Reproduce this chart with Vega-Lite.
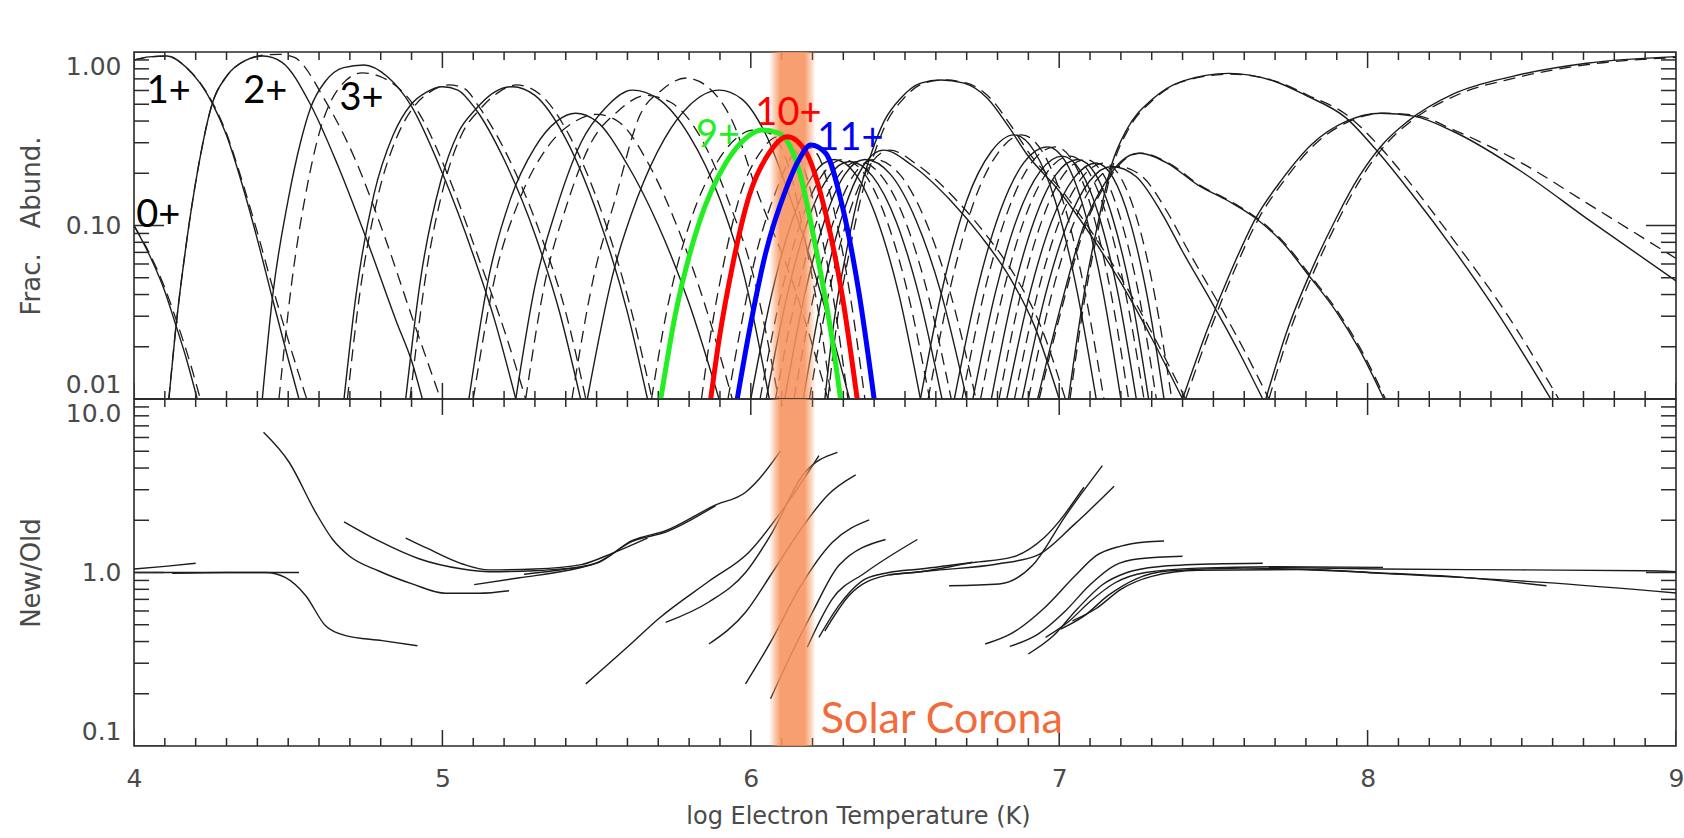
{
"$schema": "https://vega.github.io/schema/vega-lite/v6.json",
"background": "white",
"padding": {"left": 17, "top": 51, "right": 0, "bottom": 0},
"autosize": {"type": "pad"},
"spacing": 0,
"bounds": "flush",
"config": {
  "view": {"stroke": "#2a2a2a", "strokeWidth": 1.6},
  "axis": {"domain": false, "grid": false, "ticks": false, "labelFont": "DejaVu Sans", "titleFont": "DejaVu Sans", "labelFontSize": 25, "titleFontSize": 26, "labelColor": "#4a4a4a", "titleColor": "#4a4a4a", "titleFontWeight": "normal", "labelFlush": false}
},
"datasets": {
"band": [{"x1": 6.059, "x2": 6.211}],
"xt": [{"v":4,"k":"M"},{"v":4.1,"k":"m"},{"v":4.2,"k":"m"},{"v":4.3,"k":"m"},{"v":4.4,"k":"m"},{"v":4.5,"k":"m"},{"v":4.6,"k":"m"},{"v":4.7,"k":"m"},{"v":4.8,"k":"m"},{"v":4.9,"k":"m"},
{"v":5,"k":"M"},{"v":5.1,"k":"m"},{"v":5.2,"k":"m"},{"v":5.3,"k":"m"},{"v":5.4,"k":"m"},{"v":5.5,"k":"m"},{"v":5.6,"k":"m"},{"v":5.7,"k":"m"},{"v":5.8,"k":"m"},{"v":5.9,"k":"m"},
{"v":6,"k":"M"},{"v":6.1,"k":"m"},{"v":6.2,"k":"m"},{"v":6.3,"k":"m"},{"v":6.4,"k":"m"},{"v":6.5,"k":"m"},{"v":6.6,"k":"m"},{"v":6.7,"k":"m"},{"v":6.8,"k":"m"},{"v":6.9,"k":"m"},
{"v":7,"k":"M"},{"v":7.1,"k":"m"},{"v":7.2,"k":"m"},{"v":7.3,"k":"m"},{"v":7.4,"k":"m"},{"v":7.5,"k":"m"},{"v":7.6,"k":"m"},{"v":7.7,"k":"m"},{"v":7.8,"k":"m"},{"v":7.9,"k":"m"},
{"v":8,"k":"M"},{"v":8.1,"k":"m"},{"v":8.2,"k":"m"},{"v":8.3,"k":"m"},{"v":8.4,"k":"m"},{"v":8.5,"k":"m"},{"v":8.6,"k":"m"},{"v":8.7,"k":"m"},{"v":8.8,"k":"m"},{"v":8.9,"k":"m"},{"v":9,"k":"M"}],
"ytTop": [{"v":0.01,"k":"M"},{"v":0.02,"k":"m"},{"v":0.03,"k":"m"},{"v":0.04,"k":"m"},{"v":0.05,"k":"m"},{"v":0.06,"k":"m"},{"v":0.07,"k":"m"},{"v":0.08,"k":"m"},{"v":0.09,"k":"m"},
{"v":0.1,"k":"M"},{"v":0.2,"k":"m"},{"v":0.3,"k":"m"},{"v":0.4,"k":"m"},{"v":0.5,"k":"m"},{"v":0.6,"k":"m"},{"v":0.7,"k":"m"},{"v":0.8,"k":"m"},{"v":0.9,"k":"m"},{"v":1,"k":"M"}],
"ytBot": [{"v":0.1,"k":"M"},{"v":0.2,"k":"m"},{"v":0.3,"k":"m"},{"v":0.4,"k":"m"},{"v":0.5,"k":"m"},{"v":0.6,"k":"m"},{"v":0.7,"k":"m"},{"v":0.8,"k":"m"},{"v":0.9,"k":"m"},
{"v":1,"k":"M"},{"v":2,"k":"m"},{"v":3,"k":"m"},{"v":4,"k":"m"},{"v":5,"k":"m"},{"v":6,"k":"m"},{"v":7,"k":"m"},{"v":8,"k":"m"},{"v":9,"k":"m"},{"v":10,"k":"M"}],
"ionlab": [
{"label":"0+","x":4.079,"y":0.1135},{"label":"1+","x":4.113,"y":0.588},{"label":"2+","x":4.426,"y":0.588},{"label":"3+","x":4.738,"y":0.536},
{"label":"9+","x":5.894,"y":0.328},{"label":"10+","x":6.122,"y":0.439},{"label":"11+","x":6.323,"y":0.317}],
"corona": [{"label":"Solar Corona","x":6.227,"y":0.142}],
"abund": [
{"s":"0+","v":"new","x":4,"y":0.1},{"s":"0+","v":"new","x":4.05,"y":0.0676},{"s":"0+","v":"new","x":4.1,"y":0.0417},{"s":"0+","v":"new","x":4.135,"y":0.0269},{"s":"0+","v":"new","x":4.17,"y":0.017},{"s":"0+","v":"new","x":4.205,"y":0.01},
{"s":"1+","v":"new","x":4,"y":0.9},{"s":"1+","v":"new","x":4.05,"y":0.938},{"s":"1+","v":"new","x":4.108,"y":0.948},{"s":"1+","v":"new","x":4.17,"y":0.813},{"s":"1+","v":"new","x":4.254,"y":0.506},{"s":"1+","v":"new","x":4.3,"y":0.331},{"s":"1+","v":"new","x":4.35,"y":0.174},{"s":"1+","v":"new","x":4.4,"y":0.0832},{"s":"1+","v":"new","x":4.45,"y":0.0372},{"s":"1+","v":"new","x":4.5,"y":0.017},{"s":"1+","v":"new","x":4.535,"y":0.01},
{"s":"2+","v":"new","x":4.113,"y":0.01},{"s":"2+","v":"new","x":4.135,"y":0.0251},{"s":"2+","v":"new","x":4.17,"y":0.0794},{"s":"2+","v":"new","x":4.21,"y":0.224},{"s":"2+","v":"new","x":4.254,"y":0.506},{"s":"2+","v":"new","x":4.3,"y":0.724},{"s":"2+","v":"new","x":4.36,"y":0.891},{"s":"2+","v":"new","x":4.42,"y":0.948},{"s":"2+","v":"new","x":4.48,"y":0.871},{"s":"2+","v":"new","x":4.573,"y":0.495},{"s":"2+","v":"new","x":4.66,"y":0.224},{"s":"2+","v":"new","x":4.757,"y":0.0807},{"s":"2+","v":"new","x":4.85,"y":0.0282},{"s":"2+","v":"new","x":4.9,"y":0.0166},{"s":"2+","v":"new","x":4.935,"y":0.01},
{"s":"3+","v":"new","x":4.416,"y":0.01},{"s":"3+","v":"new","x":4.45,"y":0.0398},{"s":"3+","v":"new","x":4.5,"y":0.141},{"s":"3+","v":"new","x":4.54,"y":0.302},{"s":"3+","v":"new","x":4.573,"y":0.479},{"s":"3+","v":"new","x":4.62,"y":0.676},{"s":"3+","v":"new","x":4.68,"y":0.813},{"s":"3+","v":"new","x":4.746,"y":0.841},{"s":"3+","v":"new","x":4.82,"y":0.724},{"s":"3+","v":"new","x":4.897,"y":0.495},{"s":"3+","v":"new","x":5,"y":0.2},{"s":"3+","v":"new","x":5.1,"y":0.0676},{"s":"3+","v":"new","x":5.17,"y":0.0282},{"s":"3+","v":"new","x":5.238,"y":0.01},
{"s":"4+","v":"new","x":4.681,"y":0.01},{"s":"4+","v":"new","x":4.72,"y":0.0398},{"s":"4+","v":"new","x":4.778,"y":0.151},{"s":"4+","v":"new","x":4.84,"y":0.331},{"s":"4+","v":"new","x":4.897,"y":0.495},{"s":"4+","v":"new","x":4.95,"y":0.589},{"s":"4+","v":"new","x":5,"y":0.631},{"s":"4+","v":"new","x":5.05,"y":0.603},{"s":"4+","v":"new","x":5.108,"y":0.468},{"s":"4+","v":"new","x":5.2,"y":0.24},{"s":"4+","v":"new","x":5.3,"y":0.0891},{"s":"4+","v":"new","x":5.38,"y":0.0316},{"s":"4+","v":"new","x":5.448,"y":0.01},
{"s":"5+","v":"new","x":4.881,"y":0.01},{"s":"5+","v":"new","x":4.93,"y":0.0501},{"s":"5+","v":"new","x":4.994,"y":0.178},{"s":"5+","v":"new","x":5.05,"y":0.339},{"s":"5+","v":"new","x":5.108,"y":0.468},{"s":"5+","v":"new","x":5.17,"y":0.589},{"s":"5+","v":"new","x":5.227,"y":0.631},{"s":"5+","v":"new","x":5.3,"y":0.562},{"s":"5+","v":"new","x":5.4,"y":0.316},{"s":"5+","v":"new","x":5.5,"y":0.12},{"s":"5+","v":"new","x":5.6,"y":0.0316},{"s":"5+","v":"new","x":5.665,"y":0.01},
{"s":"6+","v":"new","x":5.086,"y":0.01},{"s":"6+","v":"new","x":5.15,"y":0.0501},{"s":"6+","v":"new","x":5.22,"y":0.141},{"s":"6+","v":"new","x":5.3,"y":0.282},{"s":"6+","v":"new","x":5.37,"y":0.398},{"s":"6+","v":"new","x":5.432,"y":0.444},{"s":"6+","v":"new","x":5.5,"y":0.398},{"s":"6+","v":"new","x":5.6,"y":0.224},{"s":"6+","v":"new","x":5.7,"y":0.1},{"s":"6+","v":"new","x":5.8,"y":0.0355},{"s":"6+","v":"new","x":5.897,"y":0.01},
{"s":"7+","v":"new","x":5.238,"y":0.01},{"s":"7+","v":"new","x":5.3,"y":0.0447},{"s":"7+","v":"new","x":5.37,"y":0.126},{"s":"7+","v":"new","x":5.45,"y":0.302},{"s":"7+","v":"new","x":5.53,"y":0.479},{"s":"7+","v":"new","x":5.616,"y":0.603},{"s":"7+","v":"new","x":5.7,"y":0.537},{"s":"7+","v":"new","x":5.8,"y":0.331},{"s":"7+","v":"new","x":5.9,"y":0.141},{"s":"7+","v":"new","x":5.98,"y":0.0501},{"s":"7+","v":"new","x":6.06,"y":0.01},
{"s":"8+","v":"new","x":5.47,"y":0.01},{"s":"8+","v":"new","x":5.55,"y":0.0501},{"s":"8+","v":"new","x":5.63,"y":0.141},{"s":"8+","v":"new","x":5.72,"y":0.316},{"s":"8+","v":"new","x":5.8,"y":0.49},{"s":"8+","v":"new","x":5.897,"y":0.603},{"s":"8+","v":"new","x":5.97,"y":0.537},{"s":"8+","v":"new","x":6.05,"y":0.331},{"s":"8+","v":"new","x":6.13,"y":0.141},{"s":"8+","v":"new","x":6.22,"y":0.0447},{"s":"8+","v":"new","x":6.32,"y":0.01},
{"s":"9+","v":"new","x":5.708,"y":0.01},{"s":"9+","v":"new","x":5.756,"y":0.0312},{"s":"9+","v":"new","x":5.832,"y":0.103},{"s":"9+","v":"new","x":5.919,"y":0.229},{"s":"9+","v":"new","x":5.983,"y":0.318},{"s":"9+","v":"new","x":6.036,"y":0.355},{"s":"9+","v":"new","x":6.091,"y":0.34},{"s":"9+","v":"new","x":6.156,"y":0.209},{"s":"9+","v":"new","x":6.21,"y":0.0755},{"s":"9+","v":"new","x":6.264,"y":0.0219},{"s":"9+","v":"new","x":6.291,"y":0.01},
{"s":"10+","v":"new","x":5.87,"y":0.01},{"s":"10+","v":"new","x":5.897,"y":0.0219},{"s":"10+","v":"new","x":5.94,"y":0.0579},{"s":"10+","v":"new","x":5.994,"y":0.147},{"s":"10+","v":"new","x":6.059,"y":0.261},{"s":"10+","v":"new","x":6.118,"y":0.325},{"s":"10+","v":"new","x":6.178,"y":0.267},{"s":"10+","v":"new","x":6.243,"y":0.117},{"s":"10+","v":"new","x":6.297,"y":0.0389},{"s":"10+","v":"new","x":6.345,"y":0.01},
{"s":"11+","v":"new","x":5.956,"y":0.01},{"s":"11+","v":"new","x":5.994,"y":0.024},{"s":"11+","v":"new","x":6.048,"y":0.0692},{"s":"11+","v":"new","x":6.113,"y":0.16},{"s":"11+","v":"new","x":6.156,"y":0.239},{"s":"11+","v":"new","x":6.194,"y":0.291},{"s":"11+","v":"new","x":6.243,"y":0.261},{"s":"11+","v":"new","x":6.297,"y":0.129},{"s":"11+","v":"new","x":6.351,"y":0.0407},{"s":"11+","v":"new","x":6.4,"y":0.01},
{"s":"12+","v":"new","x":6,"y":0.01},{"s":"12+","v":"new","x":6.068,"y":0.0402},{"s":"12+","v":"new","x":6.135,"y":0.108},{"s":"12+","v":"new","x":6.203,"y":0.197},{"s":"12+","v":"new","x":6.27,"y":0.24},{"s":"12+","v":"new","x":6.34,"y":0.197},{"s":"12+","v":"new","x":6.41,"y":0.108},{"s":"12+","v":"new","x":6.48,"y":0.0402},{"s":"12+","v":"new","x":6.55,"y":0.01},
{"s":"13+","v":"new","x":6.05,"y":0.01},{"s":"13+","v":"new","x":6.118,"y":0.0397},{"s":"13+","v":"new","x":6.185,"y":0.107},{"s":"13+","v":"new","x":6.253,"y":0.192},{"s":"13+","v":"new","x":6.32,"y":0.234},{"s":"13+","v":"new","x":6.395,"y":0.192},{"s":"13+","v":"new","x":6.47,"y":0.107},{"s":"13+","v":"new","x":6.545,"y":0.0397},{"s":"13+","v":"new","x":6.62,"y":0.01},
{"s":"14+","v":"new","x":6.11,"y":0.01},{"s":"14+","v":"new","x":6.175,"y":0.0402},{"s":"14+","v":"new","x":6.24,"y":0.108},{"s":"14+","v":"new","x":6.305,"y":0.197},{"s":"14+","v":"new","x":6.37,"y":0.24},{"s":"14+","v":"new","x":6.453,"y":0.197},{"s":"14+","v":"new","x":6.535,"y":0.108},{"s":"14+","v":"new","x":6.618,"y":0.0402},{"s":"14+","v":"new","x":6.7,"y":0.01},
{"s":"15+","v":"new","x":6.17,"y":0.01},{"s":"15+","v":"new","x":6.235,"y":0.0425},{"s":"15+","v":"new","x":6.3,"y":0.119},{"s":"15+","v":"new","x":6.365,"y":0.221},{"s":"15+","v":"new","x":6.43,"y":0.272},{"s":"15+","v":"new","x":6.52,"y":0.224},{"s":"15+","v":"new","x":6.65,"y":0.138},{"s":"15+","v":"new","x":6.75,"y":0.0851},{"s":"15+","v":"new","x":6.84,"y":0.0501},{"s":"15+","v":"new","x":6.92,"y":0.0263},{"s":"15+","v":"new","x":7,"y":0.01},
{"s":"16+","v":"new","x":6.24,"y":0.01},{"s":"16+","v":"new","x":6.27,"y":0.0282},{"s":"16+","v":"new","x":6.31,"y":0.0708},{"s":"16+","v":"new","x":6.35,"y":0.151},{"s":"16+","v":"new","x":6.389,"y":0.255},{"s":"16+","v":"new","x":6.432,"y":0.398},{"s":"16+","v":"new","x":6.486,"y":0.541},{"s":"16+","v":"new","x":6.551,"y":0.661},{"s":"16+","v":"new","x":6.616,"y":0.69},{"s":"16+","v":"new","x":6.691,"y":0.661},{"s":"16+","v":"new","x":6.767,"y":0.541},{"s":"16+","v":"new","x":6.832,"y":0.38},{"s":"16+","v":"new","x":6.897,"y":0.255},{"s":"16+","v":"new","x":7,"y":0.158},{"s":"16+","v":"new","x":7.1,"y":0.0891},{"s":"16+","v":"new","x":7.2,"y":0.0468},{"s":"16+","v":"new","x":7.3,"y":0.0224},{"s":"16+","v":"new","x":7.4,"y":0.01},
{"s":"17+","v":"new","x":6.55,"y":0.01},{"s":"17+","v":"new","x":6.625,"y":0.0463},{"s":"17+","v":"new","x":6.7,"y":0.139},{"s":"17+","v":"new","x":6.78,"y":0.267},{"s":"17+","v":"new","x":6.853,"y":0.333},{"s":"17+","v":"new","x":6.92,"y":0.267},{"s":"17+","v":"new","x":6.987,"y":0.139},{"s":"17+","v":"new","x":7.053,"y":0.0463},{"s":"17+","v":"new","x":7.12,"y":0.01},
{"s":"18+","v":"new","x":6.66,"y":0.01},{"s":"18+","v":"new","x":6.735,"y":0.0433},{"s":"18+","v":"new","x":6.81,"y":0.123},{"s":"18+","v":"new","x":6.886,"y":0.231},{"s":"18+","v":"new","x":6.962,"y":0.284},{"s":"18+","v":"new","x":7.022,"y":0.231},{"s":"18+","v":"new","x":7.081,"y":0.123},{"s":"18+","v":"new","x":7.14,"y":0.0433},{"s":"18+","v":"new","x":7.2,"y":0.01},
{"s":"19+","v":"new","x":6.72,"y":0.01},{"s":"19+","v":"new","x":6.793,"y":0.041},{"s":"19+","v":"new","x":6.865,"y":0.112},{"s":"19+","v":"new","x":6.938,"y":0.205},{"s":"19+","v":"new","x":7.01,"y":0.251},{"s":"19+","v":"new","x":7.07,"y":0.205},{"s":"19+","v":"new","x":7.13,"y":0.112},{"s":"19+","v":"new","x":7.19,"y":0.041},{"s":"19+","v":"new","x":7.25,"y":0.01},
{"s":"20+","v":"new","x":6.78,"y":0.01},{"s":"20+","v":"new","x":6.85,"y":0.0402},{"s":"20+","v":"new","x":6.92,"y":0.108},{"s":"20+","v":"new","x":6.99,"y":0.197},{"s":"20+","v":"new","x":7.06,"y":0.24},{"s":"20+","v":"new","x":7.118,"y":0.197},{"s":"20+","v":"new","x":7.175,"y":0.108},{"s":"20+","v":"new","x":7.233,"y":0.0402},{"s":"20+","v":"new","x":7.29,"y":0.01},
{"s":"21+","v":"new","x":6.83,"y":0.01},{"s":"21+","v":"new","x":6.903,"y":0.0394},{"s":"21+","v":"new","x":6.975,"y":0.105},{"s":"21+","v":"new","x":7.048,"y":0.188},{"s":"21+","v":"new","x":7.12,"y":0.229},{"s":"21+","v":"new","x":7.175,"y":0.188},{"s":"21+","v":"new","x":7.23,"y":0.105},{"s":"21+","v":"new","x":7.285,"y":0.0394},{"s":"21+","v":"new","x":7.34,"y":0.01},
{"s":"22+","v":"new","x":6.88,"y":0.01},{"s":"22+","v":"new","x":6.953,"y":0.0385},{"s":"22+","v":"new","x":7.025,"y":0.101},{"s":"22+","v":"new","x":7.098,"y":0.18},{"s":"22+","v":"new","x":7.17,"y":0.219},{"s":"22+","v":"new","x":7.25,"y":0.191},{"s":"22+","v":"new","x":7.33,"y":0.12},{"s":"22+","v":"new","x":7.4,"y":0.0708},{"s":"22+","v":"new","x":7.497,"y":0.0355},{"s":"22+","v":"new","x":7.58,"y":0.0191},{"s":"22+","v":"new","x":7.66,"y":0.01},
{"s":"23+","v":"new","x":6.93,"y":0.01},{"s":"23+","v":"new","x":7,"y":0.0316},{"s":"23+","v":"new","x":7.08,"y":0.1},{"s":"23+","v":"new","x":7.15,"y":0.178},{"s":"23+","v":"new","x":7.2,"y":0.234},{"s":"23+","v":"new","x":7.259,"y":0.261},{"s":"23+","v":"new","x":7.35,"y":0.229},{"s":"23+","v":"new","x":7.45,"y":0.171},{"s":"23+","v":"new","x":7.55,"y":0.138},{"s":"23+","v":"new","x":7.637,"y":0.11},{"s":"23+","v":"new","x":7.72,"y":0.0813},{"s":"23+","v":"new","x":7.81,"y":0.0513},{"s":"23+","v":"new","x":7.9,"y":0.0316},{"s":"23+","v":"new","x":7.972,"y":0.0195},{"s":"23+","v":"new","x":8.053,"y":0.01},
{"s":"24+","v":"new","x":7.03,"y":0.01},{"s":"24+","v":"new","x":7.08,"y":0.0398},{"s":"24+","v":"new","x":7.13,"y":0.112},{"s":"24+","v":"new","x":7.17,"y":0.224},{"s":"24+","v":"new","x":7.22,"y":0.36},{"s":"24+","v":"new","x":7.3,"y":0.53},{"s":"24+","v":"new","x":7.4,"y":0.68},{"s":"24+","v":"new","x":7.55,"y":0.753},{"s":"24+","v":"new","x":7.7,"y":0.676},{"s":"24+","v":"new","x":7.8,"y":0.562},{"s":"24+","v":"new","x":7.93,"y":0.417},{"s":"24+","v":"new","x":8.026,"y":0.275},{"s":"24+","v":"new","x":8.14,"y":0.155},{"s":"24+","v":"new","x":8.28,"y":0.0724},{"s":"24+","v":"new","x":8.42,"y":0.0316},{"s":"24+","v":"new","x":8.594,"y":0.01},
{"s":"25+","v":"new","x":7.4,"y":0.01},{"s":"25+","v":"new","x":7.48,"y":0.0251},{"s":"25+","v":"new","x":7.56,"y":0.0562},{"s":"25+","v":"new","x":7.637,"y":0.11},{"s":"25+","v":"new","x":7.72,"y":0.182},{"s":"25+","v":"new","x":7.82,"y":0.295},{"s":"25+","v":"new","x":7.93,"y":0.398},{"s":"25+","v":"new","x":8.042,"y":0.444},{"s":"25+","v":"new","x":8.15,"y":0.427},{"s":"25+","v":"new","x":8.28,"y":0.347},{"s":"25+","v":"new","x":8.5,"y":0.204},{"s":"25+","v":"new","x":8.71,"y":0.11},{"s":"25+","v":"new","x":9,"y":0.0479},
{"s":"26+","v":"new","x":7.67,"y":0.01},{"s":"26+","v":"new","x":7.74,"y":0.0251},{"s":"26+","v":"new","x":7.81,"y":0.0513},{"s":"26+","v":"new","x":7.9,"y":0.112},{"s":"26+","v":"new","x":7.972,"y":0.191},{"s":"26+","v":"new","x":8.05,"y":0.295},{"s":"26+","v":"new","x":8.13,"y":0.398},{"s":"26+","v":"new","x":8.28,"y":0.575},{"s":"26+","v":"new","x":8.47,"y":0.724},{"s":"26+","v":"new","x":8.71,"y":0.861},{"s":"26+","v":"new","x":9,"y":0.94},
{"s":"0+","v":"old","x":4,"y":0.1},{"s":"0+","v":"old","x":4.05,"y":0.0692},{"s":"0+","v":"old","x":4.1,"y":0.0437},{"s":"0+","v":"old","x":4.14,"y":0.0275},{"s":"0+","v":"old","x":4.18,"y":0.0166},{"s":"0+","v":"old","x":4.215,"y":0.01},
{"s":"1+","v":"old","x":4,"y":0.9},{"s":"1+","v":"old","x":4.05,"y":0.938},{"s":"1+","v":"old","x":4.108,"y":0.948},{"s":"1+","v":"old","x":4.17,"y":0.813},{"s":"1+","v":"old","x":4.254,"y":0.513},{"s":"1+","v":"old","x":4.3,"y":0.339},{"s":"1+","v":"old","x":4.35,"y":0.182},{"s":"1+","v":"old","x":4.4,"y":0.0912},{"s":"1+","v":"old","x":4.45,"y":0.0437},{"s":"1+","v":"old","x":4.5,"y":0.0219},{"s":"1+","v":"old","x":4.56,"y":0.01},
{"s":"2+","v":"old","x":4.113,"y":0.01},{"s":"2+","v":"old","x":4.135,"y":0.0251},{"s":"2+","v":"old","x":4.17,"y":0.0794},{"s":"2+","v":"old","x":4.21,"y":0.224},{"s":"2+","v":"old","x":4.254,"y":0.506},{"s":"2+","v":"old","x":4.3,"y":0.724},{"s":"2+","v":"old","x":4.36,"y":0.891},{"s":"2+","v":"old","x":4.42,"y":0.96},{"s":"2+","v":"old","x":4.47,"y":0.97},{"s":"2+","v":"old","x":4.52,"y":0.93},{"s":"2+","v":"old","x":4.62,"y":0.525},{"s":"2+","v":"old","x":4.72,"y":0.234},{"s":"2+","v":"old","x":4.81,"y":0.0891},{"s":"2+","v":"old","x":4.9,"y":0.0302},{"s":"2+","v":"old","x":4.994,"y":0.01},
{"s":"3+","v":"old","x":4.47,"y":0.01},{"s":"3+","v":"old","x":4.51,"y":0.0447},{"s":"3+","v":"old","x":4.562,"y":0.17},{"s":"3+","v":"old","x":4.605,"y":0.363},{"s":"3+","v":"old","x":4.66,"y":0.603},{"s":"3+","v":"old","x":4.74,"y":0.759},{"s":"3+","v":"old","x":4.82,"y":0.692},{"s":"3+","v":"old","x":4.92,"y":0.457},{"s":"3+","v":"old","x":5.02,"y":0.191},{"s":"3+","v":"old","x":5.12,"y":0.0631},{"s":"3+","v":"old","x":5.2,"y":0.0251},{"s":"3+","v":"old","x":5.27,"y":0.01},
{"s":"4+","v":"old","x":4.692,"y":0.01},{"s":"4+","v":"old","x":4.73,"y":0.038},{"s":"4+","v":"old","x":4.79,"y":0.145},{"s":"4+","v":"old","x":4.85,"y":0.316},{"s":"4+","v":"old","x":4.91,"y":0.49},{"s":"4+","v":"old","x":4.96,"y":0.589},{"s":"4+","v":"old","x":5.02,"y":0.646},{"s":"4+","v":"old","x":5.07,"y":0.617},{"s":"4+","v":"old","x":5.12,"y":0.479},{"s":"4+","v":"old","x":5.22,"y":0.234},{"s":"4+","v":"old","x":5.32,"y":0.0871},{"s":"4+","v":"old","x":5.4,"y":0.0316},{"s":"4+","v":"old","x":5.465,"y":0.01},
{"s":"5+","v":"old","x":4.895,"y":0.01},{"s":"5+","v":"old","x":4.945,"y":0.0501},{"s":"5+","v":"old","x":5.008,"y":0.178},{"s":"5+","v":"old","x":5.064,"y":0.339},{"s":"5+","v":"old","x":5.122,"y":0.468},{"s":"5+","v":"old","x":5.184,"y":0.589},{"s":"5+","v":"old","x":5.24,"y":0.646},{"s":"5+","v":"old","x":5.314,"y":0.575},{"s":"5+","v":"old","x":5.414,"y":0.324},{"s":"5+","v":"old","x":5.514,"y":0.123},{"s":"5+","v":"old","x":5.614,"y":0.0316},{"s":"5+","v":"old","x":5.68,"y":0.01},
{"s":"6+","v":"old","x":5.1,"y":0.01},{"s":"6+","v":"old","x":5.17,"y":0.0501},{"s":"6+","v":"old","x":5.25,"y":0.141},{"s":"6+","v":"old","x":5.34,"y":0.282},{"s":"6+","v":"old","x":5.43,"y":0.398},{"s":"6+","v":"old","x":5.5,"y":0.437},{"s":"6+","v":"old","x":5.57,"y":0.398},{"s":"6+","v":"old","x":5.67,"y":0.224},{"s":"6+","v":"old","x":5.76,"y":0.1},{"s":"6+","v":"old","x":5.85,"y":0.0355},{"s":"6+","v":"old","x":5.94,"y":0.01},
{"s":"7+","v":"old","x":5.27,"y":0.01},{"s":"7+","v":"old","x":5.33,"y":0.0447},{"s":"7+","v":"old","x":5.4,"y":0.126},{"s":"7+","v":"old","x":5.48,"y":0.295},{"s":"7+","v":"old","x":5.57,"y":0.457},{"s":"7+","v":"old","x":5.66,"y":0.562},{"s":"7+","v":"old","x":5.74,"y":0.513},{"s":"7+","v":"old","x":5.84,"y":0.316},{"s":"7+","v":"old","x":5.93,"y":0.135},{"s":"7+","v":"old","x":6.01,"y":0.0501},{"s":"7+","v":"old","x":6.09,"y":0.01},
{"s":"8+","v":"old","x":5.42,"y":0.01},{"s":"8+","v":"old","x":5.49,"y":0.0501},{"s":"8+","v":"old","x":5.56,"y":0.141},{"s":"8+","v":"old","x":5.64,"y":0.43},{"s":"8+","v":"old","x":5.71,"y":0.6},{"s":"8+","v":"old","x":5.79,"y":0.708},{"s":"8+","v":"old","x":5.86,"y":0.63},{"s":"8+","v":"old","x":5.94,"y":0.4},{"s":"8+","v":"old","x":6.02,"y":0.158},{"s":"8+","v":"old","x":6.14,"y":0.0447},{"s":"8+","v":"old","x":6.25,"y":0.01},
{"s":"9+","v":"old","x":5.678,"y":0.01},{"s":"9+","v":"old","x":5.726,"y":0.0312},{"s":"9+","v":"old","x":5.802,"y":0.103},{"s":"9+","v":"old","x":5.889,"y":0.229},{"s":"9+","v":"old","x":5.953,"y":0.318},{"s":"9+","v":"old","x":6.006,"y":0.355},{"s":"9+","v":"old","x":6.061,"y":0.34},{"s":"9+","v":"old","x":6.126,"y":0.209},{"s":"9+","v":"old","x":6.18,"y":0.0755},{"s":"9+","v":"old","x":6.234,"y":0.0219},{"s":"9+","v":"old","x":6.261,"y":0.01},
{"s":"10+","v":"old","x":5.84,"y":0.01},{"s":"10+","v":"old","x":5.867,"y":0.0219},{"s":"10+","v":"old","x":5.91,"y":0.0579},{"s":"10+","v":"old","x":5.964,"y":0.147},{"s":"10+","v":"old","x":6.029,"y":0.261},{"s":"10+","v":"old","x":6.088,"y":0.325},{"s":"10+","v":"old","x":6.148,"y":0.267},{"s":"10+","v":"old","x":6.213,"y":0.117},{"s":"10+","v":"old","x":6.267,"y":0.0389},{"s":"10+","v":"old","x":6.315,"y":0.01},
{"s":"11+","v":"old","x":5.926,"y":0.01},{"s":"11+","v":"old","x":5.964,"y":0.024},{"s":"11+","v":"old","x":6.018,"y":0.0692},{"s":"11+","v":"old","x":6.083,"y":0.16},{"s":"11+","v":"old","x":6.126,"y":0.239},{"s":"11+","v":"old","x":6.164,"y":0.291},{"s":"11+","v":"old","x":6.213,"y":0.261},{"s":"11+","v":"old","x":6.267,"y":0.129},{"s":"11+","v":"old","x":6.321,"y":0.0407},{"s":"11+","v":"old","x":6.37,"y":0.01},
{"s":"12+","v":"old","x":6.03,"y":0.01},{"s":"12+","v":"old","x":6.098,"y":0.0402},{"s":"12+","v":"old","x":6.165,"y":0.108},{"s":"12+","v":"old","x":6.233,"y":0.197},{"s":"12+","v":"old","x":6.3,"y":0.24},{"s":"12+","v":"old","x":6.37,"y":0.197},{"s":"12+","v":"old","x":6.44,"y":0.108},{"s":"12+","v":"old","x":6.51,"y":0.0402},{"s":"12+","v":"old","x":6.58,"y":0.01},
{"s":"13+","v":"old","x":6.08,"y":0.01},{"s":"13+","v":"old","x":6.148,"y":0.0397},{"s":"13+","v":"old","x":6.215,"y":0.107},{"s":"13+","v":"old","x":6.283,"y":0.192},{"s":"13+","v":"old","x":6.35,"y":0.234},{"s":"13+","v":"old","x":6.425,"y":0.192},{"s":"13+","v":"old","x":6.5,"y":0.107},{"s":"13+","v":"old","x":6.575,"y":0.0397},{"s":"13+","v":"old","x":6.65,"y":0.01},
{"s":"14+","v":"old","x":6.14,"y":0.01},{"s":"14+","v":"old","x":6.205,"y":0.0402},{"s":"14+","v":"old","x":6.27,"y":0.108},{"s":"14+","v":"old","x":6.335,"y":0.197},{"s":"14+","v":"old","x":6.4,"y":0.24},{"s":"14+","v":"old","x":6.483,"y":0.197},{"s":"14+","v":"old","x":6.565,"y":0.108},{"s":"14+","v":"old","x":6.648,"y":0.0402},{"s":"14+","v":"old","x":6.73,"y":0.01},
{"s":"15+","v":"old","x":6.19,"y":0.01},{"s":"15+","v":"old","x":6.255,"y":0.0425},{"s":"15+","v":"old","x":6.32,"y":0.119},{"s":"15+","v":"old","x":6.385,"y":0.221},{"s":"15+","v":"old","x":6.45,"y":0.272},{"s":"15+","v":"old","x":6.54,"y":0.224},{"s":"15+","v":"old","x":6.67,"y":0.138},{"s":"15+","v":"old","x":6.77,"y":0.0851},{"s":"15+","v":"old","x":6.86,"y":0.0501},{"s":"15+","v":"old","x":6.94,"y":0.0263},{"s":"15+","v":"old","x":7.02,"y":0.01},
{"s":"16+","v":"old","x":6.25,"y":0.01},{"s":"16+","v":"old","x":6.28,"y":0.0282},{"s":"16+","v":"old","x":6.32,"y":0.0708},{"s":"16+","v":"old","x":6.36,"y":0.151},{"s":"16+","v":"old","x":6.399,"y":0.255},{"s":"16+","v":"old","x":6.442,"y":0.398},{"s":"16+","v":"old","x":6.496,"y":0.541},{"s":"16+","v":"old","x":6.561,"y":0.661},{"s":"16+","v":"old","x":6.626,"y":0.69},{"s":"16+","v":"old","x":6.701,"y":0.661},{"s":"16+","v":"old","x":6.777,"y":0.541},{"s":"16+","v":"old","x":6.842,"y":0.38},{"s":"16+","v":"old","x":6.907,"y":0.255},{"s":"16+","v":"old","x":7.01,"y":0.158},{"s":"16+","v":"old","x":7.11,"y":0.0891},{"s":"16+","v":"old","x":7.21,"y":0.0468},{"s":"16+","v":"old","x":7.31,"y":0.0224},{"s":"16+","v":"old","x":7.41,"y":0.01},
{"s":"17+","v":"old","x":6.575,"y":0.01},{"s":"17+","v":"old","x":6.65,"y":0.0463},{"s":"17+","v":"old","x":6.725,"y":0.139},{"s":"17+","v":"old","x":6.805,"y":0.267},{"s":"17+","v":"old","x":6.878,"y":0.333},{"s":"17+","v":"old","x":6.945,"y":0.267},{"s":"17+","v":"old","x":7.012,"y":0.139},{"s":"17+","v":"old","x":7.078,"y":0.0463},{"s":"17+","v":"old","x":7.145,"y":0.01},
{"s":"18+","v":"old","x":6.685,"y":0.01},{"s":"18+","v":"old","x":6.76,"y":0.0433},{"s":"18+","v":"old","x":6.835,"y":0.123},{"s":"18+","v":"old","x":6.911,"y":0.231},{"s":"18+","v":"old","x":6.987,"y":0.284},{"s":"18+","v":"old","x":7.047,"y":0.231},{"s":"18+","v":"old","x":7.106,"y":0.123},{"s":"18+","v":"old","x":7.165,"y":0.0433},{"s":"18+","v":"old","x":7.225,"y":0.01},
{"s":"19+","v":"old","x":6.745,"y":0.01},{"s":"19+","v":"old","x":6.818,"y":0.041},{"s":"19+","v":"old","x":6.89,"y":0.112},{"s":"19+","v":"old","x":6.963,"y":0.205},{"s":"19+","v":"old","x":7.035,"y":0.251},{"s":"19+","v":"old","x":7.095,"y":0.205},{"s":"19+","v":"old","x":7.155,"y":0.112},{"s":"19+","v":"old","x":7.215,"y":0.041},{"s":"19+","v":"old","x":7.275,"y":0.01},
{"s":"20+","v":"old","x":6.805,"y":0.01},{"s":"20+","v":"old","x":6.875,"y":0.0402},{"s":"20+","v":"old","x":6.945,"y":0.108},{"s":"20+","v":"old","x":7.015,"y":0.197},{"s":"20+","v":"old","x":7.085,"y":0.24},{"s":"20+","v":"old","x":7.143,"y":0.197},{"s":"20+","v":"old","x":7.2,"y":0.108},{"s":"20+","v":"old","x":7.258,"y":0.0402},{"s":"20+","v":"old","x":7.315,"y":0.01},
{"s":"21+","v":"old","x":6.855,"y":0.01},{"s":"21+","v":"old","x":6.928,"y":0.0394},{"s":"21+","v":"old","x":7,"y":0.105},{"s":"21+","v":"old","x":7.073,"y":0.188},{"s":"21+","v":"old","x":7.145,"y":0.229},{"s":"21+","v":"old","x":7.2,"y":0.188},{"s":"21+","v":"old","x":7.255,"y":0.105},{"s":"21+","v":"old","x":7.31,"y":0.0394},{"s":"21+","v":"old","x":7.365,"y":0.01},
{"s":"22+","v":"old","x":6.9,"y":0.01},{"s":"22+","v":"old","x":6.973,"y":0.0385},{"s":"22+","v":"old","x":7.045,"y":0.101},{"s":"22+","v":"old","x":7.118,"y":0.18},{"s":"22+","v":"old","x":7.19,"y":0.219},{"s":"22+","v":"old","x":7.27,"y":0.191},{"s":"22+","v":"old","x":7.35,"y":0.12},{"s":"22+","v":"old","x":7.42,"y":0.0708},{"s":"22+","v":"old","x":7.517,"y":0.0355},{"s":"22+","v":"old","x":7.6,"y":0.0191},{"s":"22+","v":"old","x":7.68,"y":0.01},
{"s":"23+","v":"old","x":6.935,"y":0.01},{"s":"23+","v":"old","x":7.005,"y":0.0316},{"s":"23+","v":"old","x":7.085,"y":0.1},{"s":"23+","v":"old","x":7.155,"y":0.178},{"s":"23+","v":"old","x":7.205,"y":0.234},{"s":"23+","v":"old","x":7.264,"y":0.261},{"s":"23+","v":"old","x":7.355,"y":0.229},{"s":"23+","v":"old","x":7.455,"y":0.171},{"s":"23+","v":"old","x":7.555,"y":0.138},{"s":"23+","v":"old","x":7.642,"y":0.11},{"s":"23+","v":"old","x":7.725,"y":0.0813},{"s":"23+","v":"old","x":7.815,"y":0.0513},{"s":"23+","v":"old","x":7.905,"y":0.0316},{"s":"23+","v":"old","x":7.977,"y":0.0195},{"s":"23+","v":"old","x":8.058,"y":0.01},
{"s":"24+","v":"old","x":7.035,"y":0.01},{"s":"24+","v":"old","x":7.085,"y":0.0398},{"s":"24+","v":"old","x":7.135,"y":0.112},{"s":"24+","v":"old","x":7.175,"y":0.224},{"s":"24+","v":"old","x":7.225,"y":0.36},{"s":"24+","v":"old","x":7.305,"y":0.53},{"s":"24+","v":"old","x":7.405,"y":0.68},{"s":"24+","v":"old","x":7.555,"y":0.745},{"s":"24+","v":"old","x":7.705,"y":0.676},{"s":"24+","v":"old","x":7.805,"y":0.565},{"s":"24+","v":"old","x":7.935,"y":0.43},{"s":"24+","v":"old","x":8.035,"y":0.29},{"s":"24+","v":"old","x":8.15,"y":0.165},{"s":"24+","v":"old","x":8.29,"y":0.0776},{"s":"24+","v":"old","x":8.44,"y":0.0331},{"s":"24+","v":"old","x":8.62,"y":0.01},
{"s":"25+","v":"old","x":7.41,"y":0.01},{"s":"25+","v":"old","x":7.49,"y":0.0251},{"s":"25+","v":"old","x":7.57,"y":0.0562},{"s":"25+","v":"old","x":7.647,"y":0.11},{"s":"25+","v":"old","x":7.73,"y":0.182},{"s":"25+","v":"old","x":7.83,"y":0.295},{"s":"25+","v":"old","x":7.94,"y":0.398},{"s":"25+","v":"old","x":8.052,"y":0.444},{"s":"25+","v":"old","x":8.16,"y":0.43},{"s":"25+","v":"old","x":8.28,"y":0.355},{"s":"25+","v":"old","x":8.5,"y":0.229},{"s":"25+","v":"old","x":8.71,"y":0.135},{"s":"25+","v":"old","x":9,"y":0.0646},
{"s":"26+","v":"old","x":7.68,"y":0.01},{"s":"26+","v":"old","x":7.75,"y":0.0251},{"s":"26+","v":"old","x":7.82,"y":0.0513},{"s":"26+","v":"old","x":7.91,"y":0.112},{"s":"26+","v":"old","x":7.982,"y":0.191},{"s":"26+","v":"old","x":8.06,"y":0.295},{"s":"26+","v":"old","x":8.14,"y":0.398},{"s":"26+","v":"old","x":8.29,"y":0.565},{"s":"26+","v":"old","x":8.48,"y":0.71},{"s":"26+","v":"old","x":8.72,"y":0.85},{"s":"26+","v":"old","x":9,"y":0.93}
],
"ratio": [
{"s":"r0","x":4,"y":1.047},{"s":"r0","x":4.1,"y":1.084},{"s":"r0","x":4.2,"y":1.13},
{"s":"r1","x":4,"y":1.0},{"s":"r1","x":4.27,"y":1.0},{"s":"r1","x":4.535,"y":1.0},
{"s":"r2","x":4.124,"y":0.99},{"s":"r2","x":4.3,"y":1.0},{"s":"r2","x":4.427,"y":1.0},{"s":"r2","x":4.49,"y":0.937},{"s":"r2","x":4.557,"y":0.735},{"s":"r2","x":4.621,"y":0.493},{"s":"r2","x":4.686,"y":0.433},{"s":"r2","x":4.805,"y":0.405},{"s":"r2","x":4.919,"y":0.378},
{"s":"r3","x":4.42,"y":6.43},{"s":"r3","x":4.503,"y":4.32},{"s":"r3","x":4.589,"y":2.22},{"s":"r3","x":4.643,"y":1.56},{"s":"r3","x":4.697,"y":1.25},{"s":"r3","x":4.794,"y":1.02},{"s":"r3","x":4.902,"y":0.86},{"s":"r3","x":5.011,"y":0.759},{"s":"r3","x":5.119,"y":0.759},{"s":"r3","x":5.216,"y":0.785},
{"s":"r4","x":4.681,"y":1.96},{"s":"r4","x":4.794,"y":1.52},{"s":"r4","x":4.924,"y":1.2},{"s":"r4","x":5.065,"y":1.047},{"s":"r4","x":5.152,"y":1.01},{"s":"r4","x":5.3,"y":1.023},{"s":"r4","x":5.443,"y":1.07},
{"s":"r5","x":4.881,"y":1.58},{"s":"r5","x":4.95,"y":1.38},{"s":"r5","x":5.065,"y":1.12},{"s":"r5","x":5.15,"y":1.035},{"s":"r5","x":5.3,"y":1.047},{"s":"r5","x":5.45,"y":1.11},{"s":"r5","x":5.55,"y":1.29},{"s":"r5","x":5.665,"y":1.58},
{"s":"r6","x":5.103,"y":0.851},{"s":"r6","x":5.25,"y":0.933},{"s":"r6","x":5.4,"y":1.023},{"s":"r6","x":5.5,"y":1.135},{"s":"r6","x":5.616,"y":1.51},{"s":"r6","x":5.724,"y":1.71},{"s":"r6","x":5.886,"y":2.43},
{"s":"r7","x":5.265,"y":0.977},{"s":"r7","x":5.4,"y":1.047},{"s":"r7","x":5.508,"y":1.146},{"s":"r7","x":5.616,"y":1.53},{"s":"r7","x":5.724,"y":1.74},{"s":"r7","x":5.886,"y":2.45},{"s":"r7","x":5.983,"y":2.9},{"s":"r7","x":6.027,"y":3.46},{"s":"r7","x":6.097,"y":5.04},
{"s":"r8","x":5.465,"y":0.228},{"s":"r8","x":5.6,"y":0.372},{"s":"r8","x":5.7,"y":0.54},{"s":"r8","x":5.864,"y":0.89},{"s":"r8","x":5.994,"y":1.31},{"s":"r8","x":6.113,"y":2.43},{"s":"r8","x":6.221,"y":4.71},
{"s":"r9","x":5.724,"y":0.516},{"s":"r9","x":5.864,"y":0.676},{"s":"r9","x":5.983,"y":1.0},{"s":"r9","x":6.07,"y":1.71},{"s":"r9","x":6.167,"y":3.61},{"s":"r9","x":6.281,"y":4.93},
{"s":"r10","x":5.864,"y":0.387},{"s":"r10","x":5.983,"y":0.59},{"s":"r10","x":6.07,"y":1.0},{"s":"r10","x":6.156,"y":1.71},{"s":"r10","x":6.25,"y":2.8},{"s":"r10","x":6.34,"y":3.65},
{"s":"r11","x":5.983,"y":0.228},{"s":"r11","x":6.07,"y":0.414},{"s":"r11","x":6.156,"y":0.804},{"s":"r11","x":6.264,"y":1.49},{"s":"r11","x":6.384,"y":2.01},
{"s":"r12","x":6.064,"y":0.187},{"s":"r12","x":6.134,"y":0.347},{"s":"r12","x":6.2,"y":0.59},{"s":"r12","x":6.286,"y":1.1},{"s":"r12","x":6.437,"y":1.55},
{"s":"r13","x":6.183,"y":0.371},{"s":"r13","x":6.264,"y":0.703},{"s":"r13","x":6.372,"y":1.0},{"s":"r13","x":6.54,"y":1.55},
{"s":"r14","x":6.221,"y":0.423},{"s":"r14","x":6.286,"y":0.646},{"s":"r14","x":6.372,"y":0.918},{"s":"r14","x":6.448,"y":1.0},{"s":"r14","x":6.55,"y":1.047},{"s":"r14","x":6.72,"y":1.146},
{"s":"r15","x":6.24,"y":0.46},{"s":"r15","x":6.318,"y":0.734},{"s":"r15","x":6.437,"y":0.96},{"s":"r15","x":6.55,"y":1.01},{"s":"r15","x":6.72,"y":1.14},{"s":"r15","x":6.85,"y":1.23},{"s":"r15","x":6.95,"y":1.58},{"s":"r15","x":7.08,"y":3.1},
{"s":"r16","x":6.643,"y":0.839},{"s":"r16","x":6.805,"y":0.859},{"s":"r16","x":6.913,"y":1.096},{"s":"r16","x":7.021,"y":2.13},{"s":"r16","x":7.14,"y":4.13},
{"s":"r17","x":6.45,"y":0.97},{"s":"r17","x":6.6,"y":1.03},{"s":"r17","x":6.8,"y":1.12},{"s":"r17","x":6.93,"y":1.26},{"s":"r17","x":7.05,"y":1.9},{"s":"r17","x":7.178,"y":3.14},
{"s":"r18","x":6.76,"y":0.387},{"s":"r18","x":6.85,"y":0.45},{"s":"r18","x":6.95,"y":0.62},{"s":"r18","x":7.05,"y":0.95},{"s":"r18","x":7.12,"y":1.25},{"s":"r18","x":7.2,"y":1.42},{"s":"r18","x":7.28,"y":1.5},{"s":"r18","x":7.34,"y":1.52},
{"s":"r19","x":6.84,"y":0.375},{"s":"r19","x":6.93,"y":0.44},{"s":"r19","x":7.02,"y":0.6},{"s":"r19","x":7.1,"y":0.85},{"s":"r19","x":7.18,"y":1.1},{"s":"r19","x":7.26,"y":1.2},{"s":"r19","x":7.4,"y":1.24},
{"s":"r20","x":6.9,"y":0.339},{"s":"r20","x":6.98,"y":0.43},{"s":"r20","x":7.06,"y":0.62},{"s":"r20","x":7.14,"y":0.85},{"s":"r20","x":7.22,"y":1.0},{"s":"r20","x":7.32,"y":1.08},{"s":"r20","x":7.5,"y":1.12},{"s":"r20","x":7.66,"y":1.13},
{"s":"r21","x":6.956,"y":0.423},{"s":"r21","x":7.03,"y":0.52},{"s":"r21","x":7.1,"y":0.68},{"s":"r21","x":7.18,"y":0.87},{"s":"r21","x":7.28,"y":1.0},{"s":"r21","x":7.45,"y":1.06},{"s":"r21","x":7.7,"y":1.08},{"s":"r21","x":8.05,"y":1.07},
{"s":"r22","x":7.005,"y":0.472},{"s":"r22","x":7.08,"y":0.56},{"s":"r22","x":7.16,"y":0.74},{"s":"r22","x":7.25,"y":0.92},{"s":"r22","x":7.35,"y":1.02},{"s":"r22","x":7.6,"y":1.06},{"s":"r22","x":8.04,"y":0.995},{"s":"r22","x":8.3,"y":0.94},{"s":"r22","x":8.58,"y":0.839},
{"s":"r23","x":7.043,"y":0.527},{"s":"r23","x":7.12,"y":0.62},{"s":"r23","x":7.2,"y":0.8},{"s":"r23","x":7.3,"y":0.95},{"s":"r23","x":7.45,"y":1.03},{"s":"r23","x":7.8,"y":1.04},{"s":"r23","x":8.04,"y":0.99},{"s":"r23","x":8.57,"y":0.877},{"s":"r23","x":9,"y":0.762},
{"s":"r24","x":7.68,"y":1.07},{"s":"r24","x":8.04,"y":1.047},{"s":"r24","x":8.5,"y":1.035},{"s":"r24","x":8.9,"y":1.023},{"s":"r24","x":9,"y":1.01}
]
},
"vconcat": [
{
  "width": 1542, "height": 347,
  "resolve": {"axis": {"x": "independent", "y": "independent"}, "scale": {"size": "independent"}},
  "layer": [
    {
      "data": {"name": "abund"},
      "transform": [{"filter": "datum.v == 'new' && datum.s != '9+' && datum.s != '10+' && datum.s != '11+'"}],
      "mark": {"type": "line", "interpolate": "monotone", "clip": true, "color": "#1c1c1c", "strokeWidth": 1.4},
      "encoding": {
        "x": {"field": "x", "type": "quantitative", "scale": {"domain": [4, 9], "nice": false, "zero": false}, "axis": null},
        "y": {"field": "y", "type": "quantitative", "scale": {"type": "log", "domain": [0.01, 1], "nice": false},
              "axis": {"orient": "left", "values": [0.01, 0.1, 1], "labels": true, "format": ".2f", "labelFlush": true, "labelFlushOffset": -2, "labelPadding": 13, "title": "Frac.\u00a0\u00a0 Abund.", "titlePadding": 21}},
        "detail": {"field": "s", "type": "nominal"}
      }
    },
    {
      "data": {"name": "abund"},
      "transform": [{"filter": "datum.v == 'old'"}],
      "mark": {"type": "line", "interpolate": "monotone", "clip": true, "color": "#1c1c1c", "strokeWidth": 1.3, "strokeDash": [12, 7]},
      "encoding": {
        "x": {"field": "x", "type": "quantitative", "scale": {"domain": [4, 9], "nice": false, "zero": false}, "axis": null},
        "y": {"field": "y", "type": "quantitative", "scale": {"type": "log", "domain": [0.01, 1], "nice": false}, "axis": null},
        "detail": {"field": "s", "type": "nominal"}
      }
    },
    {
      "data": {"name": "xt"},
      "mark": {"type": "tick", "orient": "vertical", "thickness": 1.5, "color": "#2a2a2a", "opacity": 1, "clip": true},
      "encoding": {
        "x": {"field": "v", "type": "quantitative", "scale": {"domain": [4, 9], "nice": false, "zero": false}, "axis": null},
        "y": {"datum": 0.01, "type": "quantitative", "scale": {"type": "log", "domain": [0.01, 1], "nice": false}, "axis": null},
        "size": {"field": "k", "type": "ordinal", "scale": {"domain": ["M", "m"], "range": [32, 16]}, "legend": null}
      }
    },
    {
      "data": {"name": "xt"},
      "mark": {"type": "tick", "orient": "vertical", "thickness": 1.5, "color": "#2a2a2a", "opacity": 1, "clip": true},
      "encoding": {
        "x": {"field": "v", "type": "quantitative", "scale": {"domain": [4, 9], "nice": false, "zero": false}, "axis": null},
        "y": {"datum": 1, "type": "quantitative", "scale": {"type": "log", "domain": [0.01, 1], "nice": false}, "axis": null},
        "size": {"field": "k", "type": "ordinal", "scale": {"domain": ["M", "m"], "range": [32, 16]}, "legend": null}
      }
    },
    {
      "data": {"name": "ytTop"},
      "mark": {"type": "tick", "orient": "horizontal", "thickness": 1.5, "color": "#2a2a2a", "opacity": 1, "clip": true},
      "encoding": {
        "y": {"field": "v", "type": "quantitative", "scale": {"type": "log", "domain": [0.01, 1], "nice": false}, "axis": null},
        "x": {"datum": 4, "type": "quantitative", "scale": {"domain": [4, 9], "nice": false, "zero": false}, "axis": null},
        "size": {"field": "k", "type": "ordinal", "scale": {"domain": ["M", "m"], "range": [60, 30]}, "legend": null}
      }
    },
    {
      "data": {"name": "ytTop"},
      "mark": {"type": "tick", "orient": "horizontal", "thickness": 1.5, "color": "#2a2a2a", "opacity": 1, "clip": true},
      "encoding": {
        "y": {"field": "v", "type": "quantitative", "scale": {"type": "log", "domain": [0.01, 1], "nice": false}, "axis": null},
        "x": {"datum": 9, "type": "quantitative", "scale": {"domain": [4, 9], "nice": false, "zero": false}, "axis": null},
        "size": {"field": "k", "type": "ordinal", "scale": {"domain": ["M", "m"], "range": [60, 30]}, "legend": null}
      }
    },
    {
      "data": {"name": "band"},
      "mark": {"type": "rect", "clip": true, "fill": {"gradient": "linear", "x1": 0, "y1": 0, "x2": 1, "y2": 0, "stops": [{"offset": 0, "color": "rgba(246,146,92,0)"}, {"offset": 0.12, "color": "rgba(246,146,92,0.45)"}, {"offset": 0.24, "color": "rgba(246,146,92,0.88)"}, {"offset": 0.76, "color": "rgba(246,146,92,0.88)"}, {"offset": 0.88, "color": "rgba(246,146,92,0.45)"}, {"offset": 1, "color": "rgba(246,146,92,0)"}]}},
      "encoding": {
        "x": {"field": "x1", "type": "quantitative", "scale": {"domain": [4, 9], "nice": false, "zero": false}, "axis": null},
        "x2": {"field": "x2"}
      }
    },
    {
      "data": {"name": "abund"},
      "transform": [{"filter": "datum.v == 'new' && (datum.s == '9+' || datum.s == '10+' || datum.s == '11+')"}],
      "mark": {"type": "line", "interpolate": "monotone", "clip": true, "strokeWidth": 5},
      "encoding": {
        "x": {"field": "x", "type": "quantitative", "scale": {"domain": [4, 9], "nice": false, "zero": false}, "axis": null},
        "y": {"field": "y", "type": "quantitative", "scale": {"type": "log", "domain": [0.01, 1], "nice": false}, "axis": null},
        "color": {"field": "s", "type": "nominal", "scale": {"domain": ["0+","1+","2+","3+","9+","10+","11+"], "range": ["#000000","#000000","#000000","#000000","#22ee22","#ff0000","#0000ff"]}, "legend": null},
        "detail": {"field": "s", "type": "nominal"}
      }
    },
    {
      "data": {"name": "ionlab"},
      "mark": {"type": "text", "font": "Lato", "fontSize": 38, "align": "center", "baseline": "middle"},
      "encoding": {
        "x": {"field": "x", "type": "quantitative", "scale": {"domain": [4, 9], "nice": false, "zero": false}, "axis": null},
        "y": {"field": "y", "type": "quantitative", "scale": {"type": "log", "domain": [0.01, 1], "nice": false}, "axis": null},
        "text": {"field": "label"},
        "color": {"field": "label", "type": "nominal", "scale": {"domain": ["0+","1+","2+","3+","9+","10+","11+"], "range": ["#000000","#000000","#000000","#000000","#22ee22","#ff0000","#0000ff"]}, "legend": null}
      }
    }
  ]
},
{
  "width": 1542, "height": 347,
  "resolve": {"axis": {"x": "independent", "y": "independent"}, "scale": {"size": "independent"}},
  "layer": [
    {
      "data": {"name": "ratio"},
      "mark": {"type": "line", "interpolate": "monotone", "clip": true, "color": "#1c1c1c", "strokeWidth": 1.4},
      "encoding": {
        "x": {"field": "x", "type": "quantitative", "scale": {"domain": [4, 9], "nice": false, "zero": false},
              "axis": {"orient": "bottom", "values": [4,5,6,7,8,9], "labels": true, "format": "d", "labelFlush": false, "labelPadding": 20, "title": "log Electron Temperature (K)", "titleFontSize": 24, "titleX": 724, "titleY": 77, "titleAlign": "center", "titleBaseline": "alphabetic"}},
        "y": {"field": "y", "type": "quantitative", "scale": {"type": "log", "domain": [0.1, 10], "nice": false},
              "axis": {"orient": "left", "values": [0.1, 1, 10], "labels": true, "format": ".1f", "labelFlush": true, "labelFlushOffset": -2, "labelPadding": 13, "title": "New/Old", "titlePadding": 21}},
        "detail": {"field": "s", "type": "nominal"}
      }
    },
    {
      "data": {"name": "xt"},
      "mark": {"type": "tick", "orient": "vertical", "thickness": 1.5, "color": "#2a2a2a", "opacity": 1, "clip": true},
      "encoding": {
        "x": {"field": "v", "type": "quantitative", "scale": {"domain": [4, 9], "nice": false, "zero": false}, "axis": null},
        "y": {"datum": 0.1, "type": "quantitative", "scale": {"type": "log", "domain": [0.1, 10], "nice": false}, "axis": null},
        "size": {"field": "k", "type": "ordinal", "scale": {"domain": ["M", "m"], "range": [32, 16]}, "legend": null}
      }
    },
    {
      "data": {"name": "xt"},
      "mark": {"type": "tick", "orient": "vertical", "thickness": 1.5, "color": "#2a2a2a", "opacity": 1, "clip": true},
      "encoding": {
        "x": {"field": "v", "type": "quantitative", "scale": {"domain": [4, 9], "nice": false, "zero": false}, "axis": null},
        "y": {"datum": 10, "type": "quantitative", "scale": {"type": "log", "domain": [0.1, 10], "nice": false}, "axis": null},
        "size": {"field": "k", "type": "ordinal", "scale": {"domain": ["M", "m"], "range": [32, 16]}, "legend": null}
      }
    },
    {
      "data": {"name": "ytBot"},
      "mark": {"type": "tick", "orient": "horizontal", "thickness": 1.5, "color": "#2a2a2a", "opacity": 1, "clip": true},
      "encoding": {
        "y": {"field": "v", "type": "quantitative", "scale": {"type": "log", "domain": [0.1, 10], "nice": false}, "axis": null},
        "x": {"datum": 4, "type": "quantitative", "scale": {"domain": [4, 9], "nice": false, "zero": false}, "axis": null},
        "size": {"field": "k", "type": "ordinal", "scale": {"domain": ["M", "m"], "range": [60, 30]}, "legend": null}
      }
    },
    {
      "data": {"name": "ytBot"},
      "mark": {"type": "tick", "orient": "horizontal", "thickness": 1.5, "color": "#2a2a2a", "opacity": 1, "clip": true},
      "encoding": {
        "y": {"field": "v", "type": "quantitative", "scale": {"type": "log", "domain": [0.1, 10], "nice": false}, "axis": null},
        "x": {"datum": 9, "type": "quantitative", "scale": {"domain": [4, 9], "nice": false, "zero": false}, "axis": null},
        "size": {"field": "k", "type": "ordinal", "scale": {"domain": ["M", "m"], "range": [60, 30]}, "legend": null}
      }
    },
    {
      "data": {"name": "band"},
      "mark": {"type": "rect", "clip": true, "fill": {"gradient": "linear", "x1": 0, "y1": 0, "x2": 1, "y2": 0, "stops": [{"offset": 0, "color": "rgba(246,146,92,0)"}, {"offset": 0.12, "color": "rgba(246,146,92,0.45)"}, {"offset": 0.24, "color": "rgba(246,146,92,0.88)"}, {"offset": 0.76, "color": "rgba(246,146,92,0.88)"}, {"offset": 0.88, "color": "rgba(246,146,92,0.45)"}, {"offset": 1, "color": "rgba(246,146,92,0)"}]}},
      "encoding": {
        "x": {"field": "x1", "type": "quantitative", "scale": {"domain": [4, 9], "nice": false, "zero": false}, "axis": null},
        "x2": {"field": "x2"}
      }
    },
    {
      "data": {"name": "corona"},
      "mark": {"type": "text", "font": "Lato", "fontSize": 43, "align": "left", "baseline": "middle", "color": "#f26b3a"},
      "encoding": {
        "x": {"field": "x", "type": "quantitative", "scale": {"domain": [4, 9], "nice": false, "zero": false}, "axis": null},
        "y": {"field": "y", "type": "quantitative", "scale": {"type": "log", "domain": [0.1, 10], "nice": false}, "axis": null},
        "text": {"field": "label"}
      }
    }
  ]
}
]
}
